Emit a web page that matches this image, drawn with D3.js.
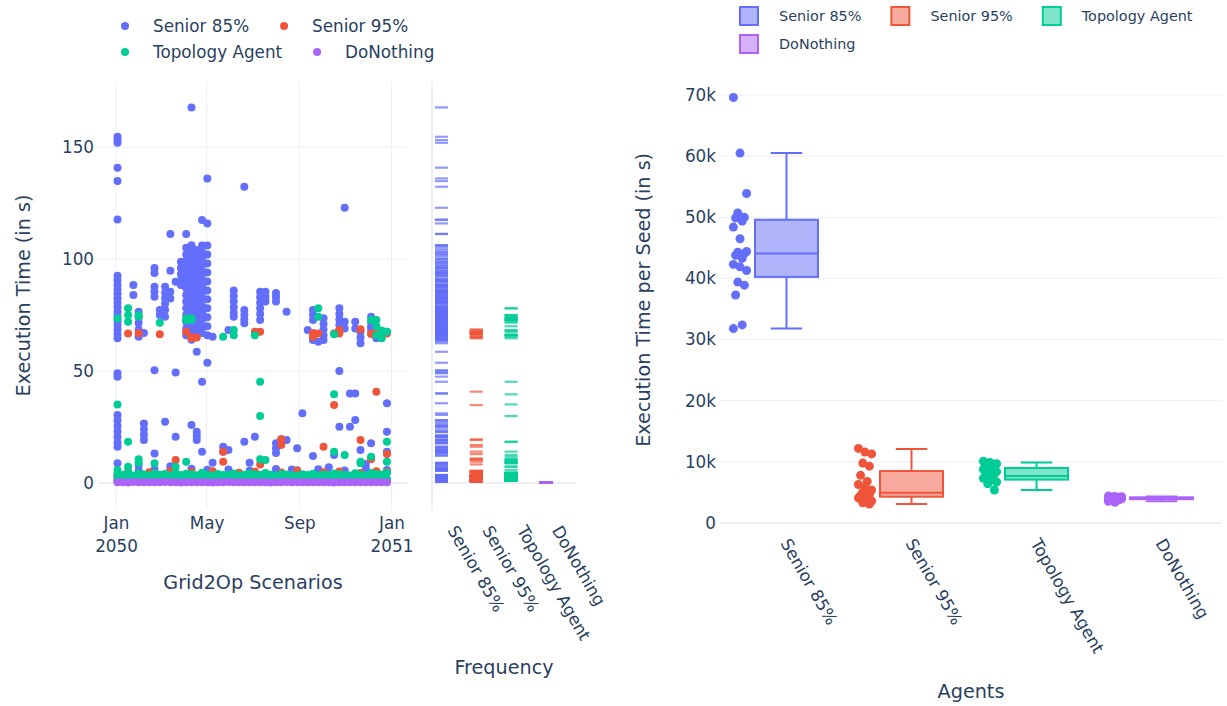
<!DOCTYPE html>
<html>
<head>
<meta charset="utf-8">
<script src="https://cdn.jsdelivr.net/npm/d3@7"></script>
<style>
  body { margin: 0; background: #fff; }
  text { font-family: "DejaVu Sans", sans-serif; fill: #2a3f5f; }
</style>
</head>
<body>
<svg id="chart" width="1227" height="706"></svg>
<script>
const agents = ["Senior 85%", "Senior 95%", "Topology Agent", "DoNothing"];
const colors = ["#636efa", "#EF553B", "#00cc96", "#ab63fa"];

// one scenario per week
const scenarioDates = [
    "2050-01-03", "2050-01-10", "2050-01-17", "2050-01-24", "2050-01-31",
    "2050-02-07", "2050-02-14", "2050-02-21", "2050-02-28",
    "2050-03-07", "2050-03-14", "2050-03-21", "2050-03-28",
    "2050-04-04", "2050-04-11", "2050-04-18", "2050-04-25",
    "2050-05-02", "2050-05-09", "2050-05-16", "2050-05-23", "2050-05-30",
    "2050-06-06", "2050-06-13", "2050-06-20", "2050-06-27",
    "2050-07-04", "2050-07-11", "2050-07-18", "2050-07-25",
    "2050-08-01", "2050-08-08", "2050-08-15", "2050-08-22", "2050-08-29",
    "2050-09-05", "2050-09-12", "2050-09-19", "2050-09-26",
    "2050-10-03", "2050-10-10", "2050-10-17", "2050-10-24", "2050-10-31",
    "2050-11-07", "2050-11-14", "2050-11-21", "2050-11-28",
    "2050-12-05", "2050-12-12", "2050-12-19", "2050-12-26"
];

// execution time (s) of the usual runs, one value per scenario date
const senior85Base = [3.0, 2.6, 3.4, 2.8, 5.6, 3.1, 2.7, 6.2, 3.3, 2.9, 5.8, 3.2, 2.5, 3.6, 6.4, 2.8, 3.0, 5.9, 3.3, 2.6, 3.1, 6.0, 2.9, 3.4, 2.7, 5.5, 3.0, 3.2, 2.8, 3.5, 6.3, 2.7, 3.1, 2.9, 5.7, 3.3, 2.6, 3.0, 6.1, 3.2, 2.8, 3.4, 2.7, 5.6, 3.1, 2.9, 3.3, 6.5, 2.8, 3.0, 3.2, 5.8];
const senior85Low = [1.2, 0.8, 1.5, 1.0, 1.3, 0.9, 1.6, 1.1, 0.7, 1.4, 1.0, 1.2, 0.8, 1.5, 1.1, 0.9, 1.3, 1.0, 1.6, 0.8, 1.2, 1.4, 0.9, 1.1, 1.3, 0.7, 1.5, 1.0, 1.2, 0.9, 1.4, 1.1, 0.8, 1.3, 1.0, 1.6, 0.9, 1.2, 1.4, 0.8, 1.1, 1.3, 1.0, 1.5, 0.9, 1.2, 0.7, 1.4, 1.1, 1.0, 1.3, 0.8];
const senior95Base = [3.2, 2.8, 5.1, 3.0, 3.5, 2.7, 4.8, 3.1, 2.9, 3.6, 5.4, 3.0, 2.6, 3.3, 4.9, 2.8, 3.4, 3.1, 5.2, 2.9, 3.0, 3.7, 2.7, 4.6, 3.2, 2.8, 5.0, 3.3, 3.5, 2.6, 3.1, 4.7, 2.9, 3.2, 5.5, 2.8, 3.4, 3.0, 2.7, 4.8, 3.3, 2.9, 5.1, 3.1, 2.8, 3.6, 4.5, 3.0, 2.7, 5.3, 3.2, 4.9];
const senior95Low = [1.1, 0.7, 1.4, 0.9, 1.6, 1.2, 0.8, 1.5, 1.0, 1.3, 0.6, 1.7, 1.1, 0.9, 1.4, 1.2, 0.8, 1.6, 1.0, 1.3, 0.7, 1.5, 1.1, 0.9, 1.8, 1.2, 1.0, 1.4, 0.8, 1.6, 1.3, 0.9, 1.1, 1.5, 0.7, 1.2, 1.4, 1.0, 1.7, 0.8, 1.3, 1.1, 0.9, 1.6, 1.2, 1.0, 1.4, 0.8, 1.5, 1.1, 1.3, 0.9];
const topologyBase = [4.1, 3.6, 4.5, 3.4, 4.3, 3.8, 3.5, 4.2, 3.7, 4.0, 3.3, 4.4, 3.6, 4.1, 3.9, 3.5, 4.6, 3.7, 3.4, 4.0, 3.6, 3.8, 4.3, 3.5, 3.7, 4.2, 3.9, 3.6, 4.5, 3.7, 3.4, 4.0, 3.8, 3.5, 3.3, 3.9, 3.6, 4.1, 3.4, 3.8, 3.6, 4.3, 3.9, 3.7, 3.4, 4.4, 3.8, 3.5, 4.5, 4.0, 3.8, 4.6];
const topologyLow = [1.6, 1.2, 2.0, 1.4, 1.8, 1.1, 1.5, 1.9, 1.3, 1.7, 1.0, 1.6, 1.4, 2.1, 1.2, 1.8, 1.5, 1.3, 1.9, 1.1, 1.6, 1.4, 2.0, 1.2, 1.7, 1.5, 1.3, 1.8, 1.1, 1.6, 1.9, 1.4, 1.2, 1.7, 1.5, 2.0, 1.3, 1.6, 1.1, 1.8, 1.4, 1.7, 1.2, 1.9, 1.5, 1.3, 1.6, 2.1, 1.4, 1.8, 1.2, 1.7];
const doNothingTime = [0.30, 0.35, 0.28, 0.40, 0.32, 0.30, 0.37, 0.29, 0.33, 0.41, 0.30, 0.34, 0.27, 0.36, 0.31, 0.30, 0.39, 0.33, 0.28, 0.35, 0.30, 0.42, 0.31, 0.29, 0.36, 0.33, 0.30, 0.38, 0.32, 0.28, 0.35, 0.31, 0.40, 0.30, 0.34, 0.29, 0.37, 0.32, 0.30, 0.36, 0.33, 0.28, 0.39, 0.31, 0.35, 0.30, 0.34, 0.29, 0.38, 0.32, 0.30, 0.36];

// remaining runs as [scenario index, seconds]
const senior85Extra = [
    [0, 154.6], [0, 153.1], [0, 151.9], [0, 140.8], [0, 134.8], [0, 117.7], [0, 92.5], [0, 90.5], [0, 88.5], [0, 86.5],
    [0, 84.5], [0, 82.5], [0, 80.5], [0, 78.5], [0, 76.5], [0, 74.5], [0, 72.5], [0, 70.5], [0, 68.5], [0, 66.5],
    [0, 64.6], [0, 49], [0, 47.5], [0, 30.4], [0, 28], [0, 25.5], [0, 23], [0, 20.5], [0, 18], [0, 16.2], [0, 8.8],
    [3, 88.4], [3, 84], [4, 76.5], [4, 74], [4, 71.5], [4, 68.5], [4, 65.3], [4, 8],
    [5, 67], [5, 26.6], [5, 24], [5, 21.5], [5, 19.2],
    [7, 96], [7, 93.8], [7, 87.6], [7, 85.5], [7, 83.2], [7, 50.4], [7, 13.2], [8, 77.2], [8, 75],
    [9, 87.6], [9, 85], [9, 82.5], [9, 80], [9, 77.2], [9, 74.2], [9, 27.4],
    [10, 111.2], [10, 94.8], [10, 85.4], [10, 82.4], [10, 7.5], [11, 89.9], [11, 49.3], [11, 20.7],
    [12, 98.8], [12, 96], [12, 93.2], [12, 90.5], [12, 88.4],
    [13, 111.2], [13, 105], [13, 102], [13, 99], [13, 96], [13, 93], [13, 90], [13, 87], [13, 84], [13, 81], [13, 78], [13, 75], [13, 72], [13, 69], [13, 66],
    [14, 167.7], [14, 106.2], [14, 103], [14, 100], [14, 97], [14, 94], [14, 91], [14, 88], [14, 85], [14, 82], [14, 79], [14, 76], [14, 73], [14, 70], [14, 67], [14, 64], [14, 25.9],
    [15, 104], [15, 101], [15, 98], [15, 95], [15, 92], [15, 89], [15, 86], [15, 83], [15, 80], [15, 77], [15, 74], [15, 71], [15, 68], [15, 58.6], [15, 22.9], [15, 21], [15, 19.2],
    [16, 117.4], [16, 106], [16, 103], [16, 100], [16, 97], [16, 94], [16, 91], [16, 88], [16, 85], [16, 82], [16, 79], [16, 76], [16, 73], [16, 70], [16, 67], [16, 45.2], [16, 14],
    [17, 136], [17, 115.9], [17, 106], [17, 102], [17, 98], [17, 94], [17, 90], [17, 86], [17, 82], [17, 78], [17, 74], [17, 70], [17, 66], [17, 53.7],
    [18, 65.3], [18, 9], [20, 16.2], [20, 14], [21, 68.3], [21, 14.7],
    [22, 86], [22, 83.5], [22, 81], [22, 78.5], [22, 76], [22, 74.2],
    [24, 132.3], [24, 77.2], [24, 75], [24, 73], [24, 71.3], [24, 18.4], [25, 9], [26, 20.7],
    [27, 85.4], [27, 83], [27, 80.5], [27, 78], [27, 75.5], [27, 72.8], [28, 85.4], [28, 83], [28, 81],
    [30, 84.8], [30, 83], [30, 81], [30, 17.8], [30, 15.5], [30, 13.4], [31, 19.5], [32, 76.5], [32, 19.2],
    [33, 6], [34, 15.5], [35, 31.1], [36, 68.3],
    [37, 77.2], [37, 75], [37, 72.8], [37, 63.8], [37, 12.1], [38, 63.1],
    [39, 73.6], [39, 71], [39, 68.5], [39, 66], [39, 63.8], [40, 7], [41, 12.5],
    [42, 78], [42, 75.5], [42, 73], [42, 70.5], [42, 68.3], [42, 50], [42, 25.1],
    [43, 122.9], [43, 72], [43, 69], [44, 40], [44, 25.1], [45, 72], [45, 69], [45, 40], [45, 28.1],
    [46, 67.5], [46, 65], [46, 62.4], [46, 14.7], [47, 8.5],
    [48, 74.2], [48, 72], [48, 70], [48, 68.3], [48, 17.7], [49, 69], [49, 66.5], [49, 64.6],
    [50, 68], [50, 65.5], [51, 67.5], [51, 35.6], [51, 22.9], [51, 14]
];
const senior95Extra = [
    [2, 66.8], [4, 66.9], [8, 66.4], [11, 10.3], [13, 67.5], [14, 65], [14, 64.6], [15, 65],
    [20, 14], [20, 9.5], [26, 67.5], [27, 67.5], [27, 8.3], [31, 19.5], [31, 17],
    [37, 67], [37, 65.3], [38, 66.8], [39, 16.2], [41, 34.8], [41, 66.8], [42, 68.3], [42, 66.8],
    [46, 68.6], [46, 19.2], [48, 66.5], [48, 11], [48, 10.6], [49, 40.8], [49, 67.5], [50, 66],
    [51, 66.8], [51, 12.9]
];
const topologyExtra = [
    [0, 73.5], [0, 35.1], [0, 5.8], [2, 78], [2, 75], [2, 72], [2, 18.4], [2, 7.3],
    [4, 75], [4, 74.3], [4, 10.6], [4, 9.1], [7, 8.8], [8, 71.6], [11, 7.3],
    [13, 73.5], [13, 72.8], [13, 9.5], [14, 73.6], [14, 72.8], [20, 65.3], [22, 68.3], [22, 66],
    [26, 66], [27, 45.2], [27, 29.9], [27, 10.6], [28, 10.3], [38, 78], [38, 74.2],
    [41, 66.4], [41, 39.6], [41, 14], [43, 12.5], [46, 9.5], [46, 8.8], [48, 72.8], [48, 11.7],
    [49, 72.8], [49, 70], [49, 66], [50, 68], [50, 64.6], [51, 67.5], [51, 18.4], [51, 9.5]
];

// total execution time per seed (s)
const seedSenior85 = [69600, 60500, 53900, 50700, 50000, 49900, 49400, 48400, 46500, 44400, 44300, 44100, 43800, 43300, 42300, 41900, 41300, 39400, 38900, 37300, 32400, 31800];
const seedSenior95 = [12200, 11600, 11300, 9800, 9300, 7800, 6800, 6300, 5900, 5400, 5000, 4700, 4500, 4300, 4100, 3900, 3600, 3300, 3100];
const seedTopology = [10100, 9900, 9700, 9500, 9300, 9100, 9000, 8800, 8600, 8400, 8200, 8000, 7800, 7600, 7300, 7000, 6700, 6400, 5400];
const seedDoNothing = [4400, 4350, 4300, 4250, 4200, 4150, 4100, 4050, 4000, 3950, 3900, 3850, 3800, 3700, 3550, 3400];

// box statistics per agent
const boxLower = [31800, 3100, 5400, 3550];
const boxQ1 = [40250, 4300, 7100, 3900];
const boxMedian = [44100, 4950, 7700, 4050];
const boxQ3 = [49600, 8500, 9000, 4200];
const boxUpper = [60500, 12100, 9900, 4350];

const dateTicks = ["2050-01-01", "2050-05-01", "2050-09-01", "2051-01-01"];
const dateTickLabels = [["Jan", "2050"], ["May"], ["Sep"], ["Jan", "2051"]];
const leftTicks = [0, 50, 100, 150];
const rightTicks = [0, 10000, 20000, 30000, 40000, 50000, 60000, 70000];

const grid = "#ebf0f8";
const tickFont = 16.8, titleFont = 19.2;

const svg = d3.select("#chart");
const parse = d3.timeParse("%Y-%m-%d");

// panel frames
const L = {x0: 98, x1: 408, y0: 81, y1: 510};
const F = {x0: 432, x1: 576};
const R = {x0: 720, x1: 1222, y0: 76.7, y1: 523};

const xTime = d3.scaleTime()
    .domain([new Date(2049, 11, 8, 3), new Date(2051, 0, 22, 22)])
    .range([L.x0, L.x1]);
const yLeft = d3.scaleLinear().domain([-12.05, 179.5]).range([L.y1, L.y0]);
const xRug = d3.scaleLinear().domain([-0.273, 3.865]).range([F.x0, F.x1]);
const xBox = d3.scaleLinear().domain([-0.532, 3.484]).range([R.x0, R.x1]);
const yBox = d3.scaleLinear().domain([0, 73000]).range([R.y1, R.y0]);

const series = [
    [...senior85Base.map((v, i) => [i, v]), ...senior85Low.map((v, i) => [i, v]), ...senior85Extra],
    [...senior95Base.map((v, i) => [i, v]), ...senior95Low.map((v, i) => [i, v]), ...senior95Extra],
    [...topologyBase.map((v, i) => [i, v]), ...topologyLow.map((v, i) => [i, v]), ...topologyExtra],
    doNothingTime.map((v, i) => [i, v])
];
const seeds = [seedSenior85, seedSenior95, seedTopology, seedDoNothing];

function styleAxis(g) {
    g.select(".domain").remove();
    g.attr("font-size", tickFont).attr("font-family", null);
}

// ---------- left: scatter over scenarios ----------
svg.append("g").selectAll("line").data(dateTicks).join("line")
    .attr("x1", d => xTime(parse(d))).attr("x2", d => xTime(parse(d)))
    .attr("y1", L.y0).attr("y2", L.y1)
    .attr("stroke", grid).attr("stroke-width", 1);
svg.append("g").selectAll("line").data(leftTicks).join("line")
    .attr("x1", L.x0).attr("x2", L.x1)
    .attr("y1", d => yLeft(d)).attr("y2", d => yLeft(d))
    .attr("stroke", grid).attr("stroke-width", d => d === 0 ? 2 : 1);

svg.append("g").attr("transform", `translate(${L.x0},0)`)
    .call(d3.axisLeft(yLeft).tickValues(leftTicks).tickSize(0).tickPadding(4))
    .call(styleAxis);

const dateAxis = svg.append("g").attr("transform", `translate(0,${L.y1})`)
    .call(d3.axisBottom(xTime).tickValues(dateTicks.map(parse)).tickSize(0).tickFormat(() => ""))
    .call(styleAxis);
dateAxis.selectAll(".tick text").each(function (d, i) {
    const t = d3.select(this).attr("y", 19).attr("dy", "0.71em");
    dateTickLabels[i].forEach((s, j) => {
        t.append("tspan").attr("x", 0).attr("dy", j === 0 ? 0 : "1.35em").text(s);
    });
});

series.forEach((pts, k) => {
    svg.append("g").selectAll("circle").data(pts).join("circle")
        .attr("cx", d => xTime(parse(scenarioDates[d[0]])))
        .attr("cy", d => yLeft(d[1]))
        .attr("r", 4)
        .attr("fill", colors[k]);
});

// ---------- left: rug of values ----------
svg.append("line")
    .attr("x1", F.x0).attr("x2", F.x0).attr("y1", L.y0).attr("y2", L.y1)
    .attr("stroke", grid).attr("stroke-width", 2);
svg.append("line")
    .attr("x1", F.x0).attr("x2", F.x1).attr("y1", yLeft(0)).attr("y2", yLeft(0))
    .attr("stroke", grid).attr("stroke-width", 2);
series.forEach((pts, k) => {
    svg.append("g").selectAll("line").data(pts).join("line")
        .attr("x1", xRug(k) - 6.5).attr("x2", xRug(k) + 6.5)
        .attr("y1", d => yLeft(d[1])).attr("y2", d => yLeft(d[1]))
        .attr("stroke", colors[k]).attr("stroke-width", 2.2).attr("stroke-opacity", 0.7);
});
const rugAxis = svg.append("g").attr("transform", `translate(0,${L.y1})`)
    .call(d3.axisBottom(xRug).tickValues([0, 1, 2, 3]).tickSize(0).tickFormat(i => agents[i]))
    .call(styleAxis);
rugAxis.selectAll(".tick text")
    .attr("x", 0).attr("y", 0).attr("dy", 0)
    .attr("text-anchor", "start")
    .attr("transform", "translate(5,20) rotate(60)");

// ---------- right: box plots per seed ----------
svg.append("g").selectAll("line").data(rightTicks).join("line")
    .attr("x1", R.x0).attr("x2", R.x1)
    .attr("y1", d => yBox(d)).attr("y2", d => yBox(d))
    .attr("stroke", grid).attr("stroke-width", d => d === 0 ? 2 : 1);
svg.append("g").attr("transform", `translate(${R.x0},0)`)
    .call(d3.axisLeft(yBox).tickValues(rightTicks).tickSize(0).tickPadding(4)
        .tickFormat(d => d === 0 ? "0" : d / 1000 + "k"))
    .call(styleAxis);
const agentAxis = svg.append("g").attr("transform", `translate(0,${R.y1})`)
    .call(d3.axisBottom(xBox).tickValues([0, 1, 2, 3]).tickSize(0).tickFormat(i => agents[i]))
    .call(styleAxis);
agentAxis.selectAll(".tick text")
    .attr("x", 0).attr("y", 0).attr("dy", 0)
    .attr("text-anchor", "start")
    .attr("transform", "translate(-7,20) rotate(60)");

const boxHalf = 31.5, capHalf = 15.75, pointShift = -46.5;
agents.forEach((a, k) => {
    const cx = xBox(k);
    const g = svg.append("g");
    g.append("line").attr("x1", cx).attr("x2", cx)
        .attr("y1", yBox(boxUpper[k])).attr("y2", yBox(boxQ3[k]))
        .attr("stroke", colors[k]).attr("stroke-width", 2);
    g.append("line").attr("x1", cx).attr("x2", cx)
        .attr("y1", yBox(boxQ1[k])).attr("y2", yBox(boxLower[k]))
        .attr("stroke", colors[k]).attr("stroke-width", 2);
    [boxUpper[k], boxLower[k]].forEach(v => {
        g.append("line").attr("x1", cx - capHalf).attr("x2", cx + capHalf)
            .attr("y1", yBox(v)).attr("y2", yBox(v))
            .attr("stroke", colors[k]).attr("stroke-width", 2);
    });
    g.append("rect")
        .attr("x", cx - boxHalf).attr("width", boxHalf * 2)
        .attr("y", yBox(boxQ3[k])).attr("height", yBox(boxQ1[k]) - yBox(boxQ3[k]))
        .attr("fill", colors[k]).attr("fill-opacity", 0.5)
        .attr("stroke", colors[k]).attr("stroke-width", 2);
    g.append("line").attr("x1", cx - boxHalf).attr("x2", cx + boxHalf)
        .attr("y1", yBox(boxMedian[k])).attr("y2", yBox(boxMedian[k]))
        .attr("stroke", colors[k]).attr("stroke-width", 2);
    g.selectAll("circle").data(seeds[k]).join("circle")
        .attr("cx", (d, i) => cx + pointShift + (((i * 3) % 7) - 3) * 2.2)
        .attr("cy", d => yBox(d))
        .attr("r", 4.5)
        .attr("fill", colors[k]);
});

// ---------- titles ----------
svg.append("text").attr("transform", `translate(23,${(L.y0 + L.y1) / 2}) rotate(-90)`)
    .attr("text-anchor", "middle").attr("dy", "0.35em").attr("font-size", titleFont)
    .text("Execution Time (in s)");
svg.append("text").attr("x", (L.x0 + L.x1) / 2).attr("y", 582)
    .attr("text-anchor", "middle").attr("dy", "0.35em").attr("font-size", titleFont)
    .text("Grid2Op Scenarios");
svg.append("text").attr("x", (F.x0 + F.x1) / 2).attr("y", 667)
    .attr("text-anchor", "middle").attr("dy", "0.35em").attr("font-size", titleFont)
    .text("Frequency");
svg.append("text").attr("transform", `translate(643,${(R.y0 + R.y1) / 2}) rotate(-90)`)
    .attr("text-anchor", "middle").attr("dy", "0.35em").attr("font-size", titleFont)
    .text("Execution Time per Seed (in s)");
svg.append("text").attr("x", (R.x0 + R.x1) / 2).attr("y", 691)
    .attr("text-anchor", "middle").attr("dy", "0.35em").attr("font-size", titleFont)
    .text("Agents");

// ---------- legends ----------
function legend(rows, startX, rowY, gap, fontSize, drawIcon) {
    rows.forEach((row, r) => {
        let tx = startX;
        row.forEach(k => {
            const g = svg.append("g");
            drawIcon(g, tx, rowY[r], k);
            const t = g.append("text").attr("x", tx).attr("y", rowY[r])
                .attr("dy", "0.35em").attr("font-size", fontSize).text(agents[k]);
            tx += t.node().getComputedTextLength() + gap;
        });
    });
}
legend([[0, 1], [2, 3]], 153, [26, 52], 63, tickFont, (g, tx, y, k) => {
    g.append("circle").attr("cx", tx - 28).attr("cy", y).attr("r", 4).attr("fill", colors[k]);
});
legend([[0, 1, 2], [3]], 779, [16, 44], 69, 14.4, (g, tx, y, k) => {
    g.append("rect").attr("x", tx - 39).attr("y", y - 9).attr("width", 18).attr("height", 18)
        .attr("fill", colors[k]).attr("fill-opacity", 0.5)
        .attr("stroke", colors[k]).attr("stroke-width", 2);
});
</script>
</body>
</html>
